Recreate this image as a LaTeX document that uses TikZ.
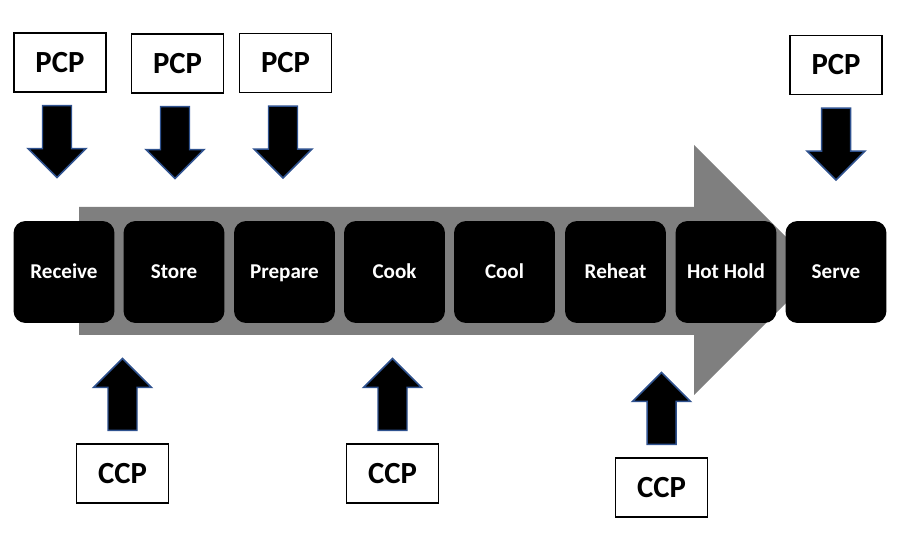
\documentclass[tikz,border=0pt]{standalone}
\usepackage{fontspec}
\setmainfont{Carlito}
\definecolor{flowgray}{HTML}{7F7F7F}
\definecolor{arrowblue}{HTML}{2F528F}
\begin{document}
\begin{tikzpicture}[
        % 1 unit = 1 pixel of the 900x550 sheet, y runs downwards
        x={(0.02cm,0cm)},
        y={(0cm,-0.02cm)},
        stepbox/.style={fill=black, rounded corners=0.24cm,
            minimum width=2.02cm, minimum height=2.04cm, inner sep=0pt,
            text height=7.7pt, text depth=0pt,
            text=white, font=\fontsize{12}{14}\selectfont\bfseries},
        pointbox/.style={draw=black, line width=0.6pt, fill=white,
            minimum width=1.84cm, minimum height=1.18cm, inner sep=0pt,
            text height=11.3pt, text depth=0pt,
            font=\fontsize{17.5}{20}\selectfont\bfseries},
        blockarr/.style={fill=black, draw=arrowblue, line width=0.85pt},
        % block arrow hanging below the anchor it is placed at
        pics/blockarrow/.style={code={
            \draw[blockarr] (-14.5,13) -- (14.5,13) -- (14.5,56) -- (29,56)
                -- (0,85) -- (-29,56) -- (-14.5,56) -- cycle;
        }}
    ]
    \useasboundingbox (0,0) rectangle (900,550);

    % --- the big gray flow arrow ---
    \fill[flowgray] (79,207) -- (694,207) -- (694,145) -- (819,270)
        -- (694,395) -- (694,335) -- (79,335) -- cycle;

    % --- process steps ---
    \node[stepbox] (receive) at (64,272)    {Receive};
    \node[stepbox] (store)   at (174,272)   {Store};
    \node[stepbox] (prepare) at (284.5,272) {Prepare};
    \node[stepbox] (cook)    at (394.5,272) {Cook};
    \node[stepbox] (cool)    at (504.5,272) {Cool};
    \node[stepbox] (reheat)  at (615.5,272) {Reheat};
    \node[stepbox] (hothold) at (726,272)   {Hot Hold};
    \node[stepbox] (serve)   at (836,272)   {Serve};

    % --- prerequisite control points (above) ---
    \node[pointbox] (pcp1) at (60,62.5)  {PCP};
    \node[pointbox] (pcp2) at (177.5,63.5) {PCP};
    \node[pointbox] (pcp3) at (285.5,63) {PCP};
    \node[pointbox] (pcp4) at (836,65)   {PCP};
    \pic at ([xshift=-0.06cm]pcp1.south) {blockarrow};
    \pic at ([xshift=-0.05cm]pcp2.south) {blockarrow};
    \pic at ([xshift=-0.05cm]pcp3.south) {blockarrow};
    \pic at (pcp4.south) {blockarrow};

    % --- critical control points (below) ---
    \node[pointbox] (ccp1) at (122.5,473.5) {CCP};
    \node[pointbox] (ccp2) at (392.5,473.5) {CCP};
    \node[pointbox] (ccp3) at (661.5,487.5) {CCP};
    \pic[rotate=180] at (ccp1.north) {blockarrow};
    \pic[rotate=180] at (ccp2.north) {blockarrow};
    \pic[rotate=180] at (ccp3.north) {blockarrow};

\end{tikzpicture}
\end{document}
